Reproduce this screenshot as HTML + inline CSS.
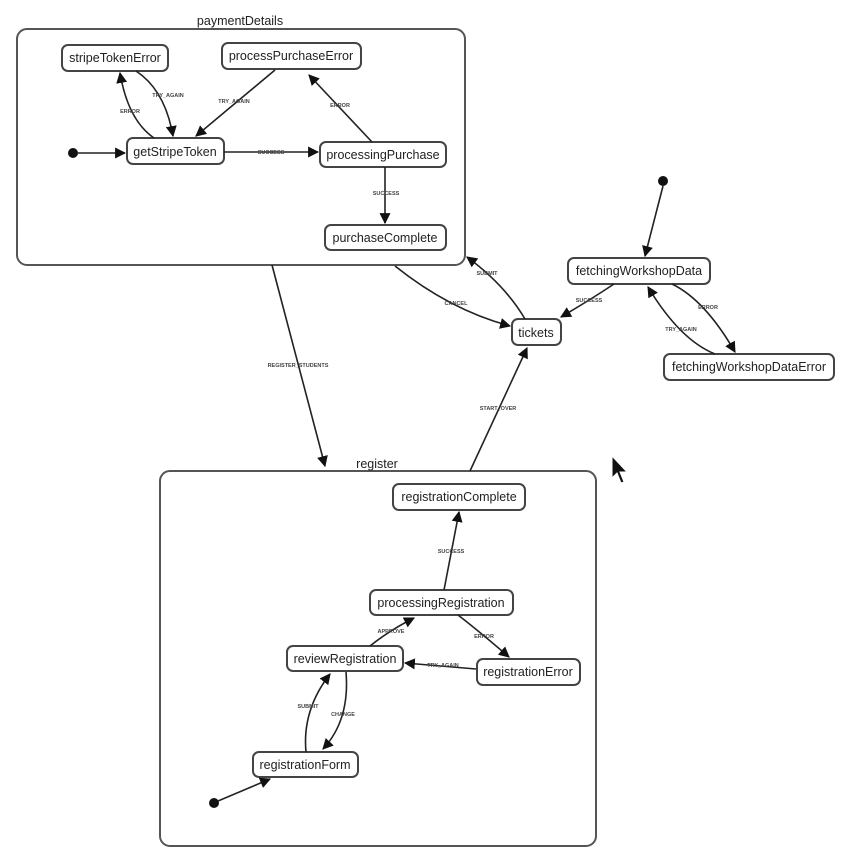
<!DOCTYPE html>
<html><head><meta charset="utf-8"><style>
html,body{margin:0;padding:0;background:#fff;}
svg{display:block;}
text{font-family:"Liberation Sans",sans-serif;fill:#222;}
.n{fill:#fff;stroke:#444;stroke-width:2;}
.c{fill:none;stroke:#555;stroke-width:2;}
.e{fill:none;stroke:#222;stroke-width:1.6;}
.t{font-size:12.5px;text-anchor:middle;}
.l{font-size:5.5px;text-anchor:middle;font-weight:bold;fill:#444;}
</style></head><body>
<svg width="847" height="862" viewBox="0 0 847 862" xmlns="http://www.w3.org/2000/svg">
<defs><marker id="a" viewBox="0 0 10 10" refX="9" refY="5" markerWidth="7" markerHeight="7" orient="auto-start-reverse" markerUnits="userSpaceOnUse"><path d="M0,0 L10,5 L0,10 z" fill="#111"/></marker>
<marker id="b" viewBox="0 0 10 10" refX="9" refY="5" markerWidth="11" markerHeight="11" orient="auto" markerUnits="userSpaceOnUse"><path d="M0,0 L10,5 L0,10 z" fill="#111"/></marker></defs>

<!-- containers -->
<rect class="c" x="17" y="29" width="448" height="236" rx="10"/>
<text x="240" y="25" style="font-size:12.5px;text-anchor:middle">paymentDetails</text>
<rect class="c" x="160" y="471" width="436" height="375" rx="10"/>
<text x="377" y="468" style="font-size:12.5px;text-anchor:middle">register</text>

<!-- nodes -->
<rect class="n" x="62" y="45" width="106" height="26" rx="6"/><text class="t" x="115" y="62">stripeTokenError</text>
<rect class="n" x="222" y="43" width="139" height="26" rx="6"/><text class="t" x="291" y="60">processPurchaseError</text>
<rect class="n" x="127" y="138" width="97" height="26" rx="6"/><text class="t" x="175" y="156">getStripeToken</text>
<rect class="n" x="320" y="142" width="126" height="25" rx="6"/><text class="t" x="383" y="159">processingPurchase</text>
<rect class="n" x="325" y="225" width="121" height="25" rx="6"/><text class="t" x="385" y="242">purchaseComplete</text>
<rect class="n" x="512" y="319" width="49" height="26" rx="6"/><text class="t" x="536" y="337">tickets</text>
<rect class="n" x="568" y="258" width="142" height="26" rx="6"/><text class="t" x="639" y="275">fetchingWorkshopData</text>
<rect class="n" x="664" y="354" width="170" height="26" rx="6"/><text class="t" x="749" y="371">fetchingWorkshopDataError</text>
<rect class="n" x="393" y="484" width="132" height="26" rx="6"/><text class="t" x="459" y="501">registrationComplete</text>
<rect class="n" x="370" y="590" width="143" height="25" rx="6"/><text class="t" x="441" y="607">processingRegistration</text>
<rect class="n" x="287" y="646" width="116" height="25" rx="6"/><text class="t" x="345" y="663">reviewRegistration</text>
<rect class="n" x="477" y="659" width="103" height="26" rx="6"/><text class="t" x="528" y="676">registrationError</text>
<rect class="n" x="253" y="752" width="105" height="25" rx="6"/><text class="t" x="305" y="769">registrationForm</text>

<!-- initial dots -->
<circle cx="73" cy="153" r="5" fill="#111"/>
<circle cx="663" cy="181" r="5" fill="#111"/>
<circle cx="214" cy="803" r="5" fill="#111"/>

<!-- edges payment -->
<line class="e" x1="78" y1="153" x2="125" y2="153" marker-end="url(#b)"/>
<path class="e" d="M154,138 Q128,120 120,73" marker-end="url(#b)"/><text class="l" x="130" y="113">ERROR</text>
<path class="e" d="M136,71 Q165,90 173,136" marker-end="url(#b)"/><text class="l" x="168" y="97">TRY_AGAIN</text>
<line class="e" x1="275" y1="70" x2="196" y2="136" marker-end="url(#b)"/><text class="l" x="234" y="103">TRY_AGAIN</text>
<line class="e" x1="372" y1="142" x2="309" y2="75" marker-end="url(#b)"/><text class="l" x="340" y="107">ERROR</text>
<line class="e" x1="224" y1="152" x2="318" y2="152" marker-end="url(#b)"/><text class="l" x="271" y="154">SUCCESS</text>
<line class="e" x1="385" y1="167" x2="385" y2="223" marker-end="url(#b)"/><text class="l" x="386" y="195">SUCCESS</text>

<!-- middle edges -->
<line class="e" x1="272" y1="265" x2="325" y2="466" marker-end="url(#b)"/><text class="l" x="298" y="367">REGISTER_STUDENTS</text>
<path class="e" d="M395,266 Q450,310 510,326" marker-end="url(#b)"/><text class="l" x="456" y="305">CANCEL</text>
<path class="e" d="M525,319 Q505,285 467,257" marker-end="url(#b)"/><text class="l" x="487" y="275">SUBMIT</text>
<path class="e" d="M614,284 Q590,300 561,317" marker-end="url(#b)"/><text class="l" x="589" y="302">SUCCESS</text>
<line class="e" x1="663" y1="186" x2="645" y2="256" marker-end="url(#b)"/>
<path class="e" d="M672,284 Q705,300 735,352" marker-end="url(#b)"/><text class="l" x="708" y="309">ERROR</text>
<path class="e" d="M715,354 Q680,340 648,287" marker-end="url(#b)"/><text class="l" x="681" y="331">TRY_AGAIN</text>
<line class="e" x1="470" y1="471" x2="527" y2="348" marker-end="url(#b)"/><text class="l" x="498" y="410">START_OVER</text>

<!-- register edges -->
<line class="e" x1="444" y1="590" x2="459" y2="512" marker-end="url(#b)"/><text class="l" x="451" y="553">SUCCESS</text>
<path class="e" d="M370,646 Q390,630 414,618" marker-end="url(#b)"/><text class="l" x="391" y="633">APPROVE</text>
<path class="e" d="M458,615 Q480,632 509,657" marker-end="url(#b)"/><text class="l" x="484" y="638">ERROR</text>
<line class="e" x1="476" y1="669" x2="405" y2="663" marker-end="url(#b)"/><text class="l" x="443" y="667">TRY_AGAIN</text>
<path class="e" d="M306,752 Q302,710 330,674" marker-end="url(#b)"/><text class="l" x="308" y="708">SUBMIT</text>
<path class="e" d="M346,672 Q350,720 323,749" marker-end="url(#b)"/><text class="l" x="343" y="716">CHANGE</text>
<line class="e" x1="218" y1="801" x2="270" y2="779" marker-end="url(#b)"/>

<!-- cursor -->
<path d="M612,456 L612,478 L617,473 L621,483 L624,482 L620,472 L627,472 z" fill="#111" stroke="#fff" stroke-width="1"/>
</svg>
</body></html>
